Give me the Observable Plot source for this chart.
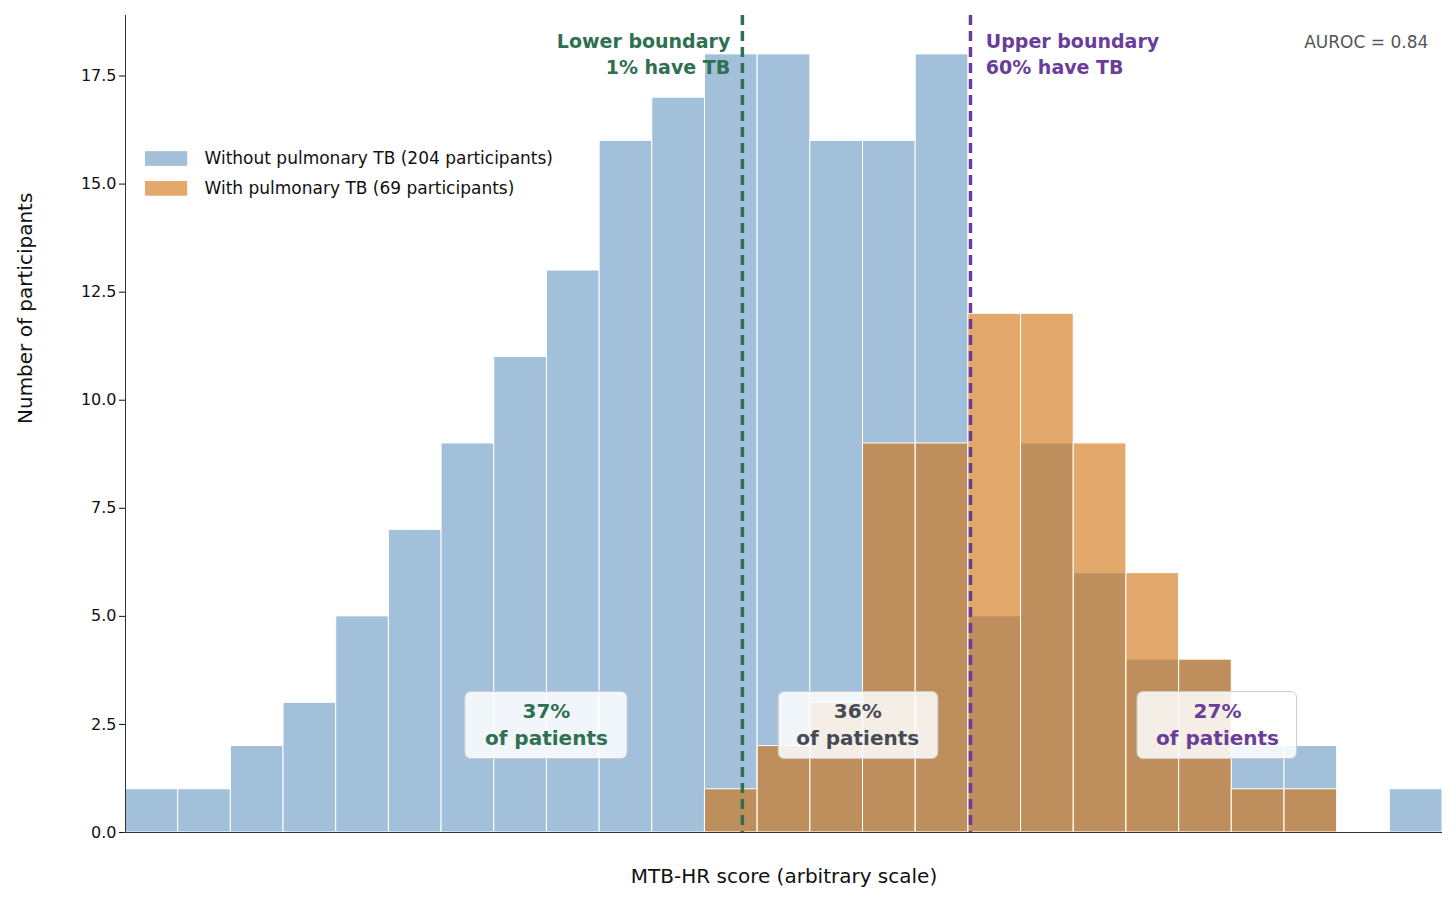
<!DOCTYPE html>
<html><head><meta charset="utf-8">
<script src="https://cdn.jsdelivr.net/npm/d3@7"></script>
<script src="https://cdn.jsdelivr.net/npm/@observablehq/plot@0.6"></script>
<style>body{margin:0;background:#fff;font-family:"DejaVu Sans",sans-serif}</style>
</head><body><div id="c"></div>
<script>
const withoutTB = [1,1,2,3,5,7,9,11,13,16,17,18,18,16,16,18,5,9,6,4,4,2,2,0,1];
const withTB    = [0,0,0,0,0,0,0,0,0,0,0,1,2,3,9,9,12,12,9,6,4,1,1,0,0];
const yTicks = [0,2.5,5,7.5,10,12.5,15,17.5];
const lowerBoundary = 11.71, upperBoundary = 16.04;
const boxes = [
  {x1:6.45,x2:9.53,cx:7.99,l1:"37%",l2:"of patients",c:"#2e7050"},
  {x1:12.4,x2:15.43,cx:13.9,l1:"36%",l2:"of patients",c:"#444b55"},
  {x1:19.21,x2:22.24,cx:20.73,l1:"27%",l2:"of patients",c:"#6a3d9a"}
];
const legend = [
  {label:"Without pulmonary TB (204 participants)", y:15.58, fill:"steelblue", op:0.5},
  {label:"With pulmonary TB (69 participants)", y:14.89, fill:"#d06e08", op:0.6}
];
const bins = d => d.map((v,i)=>({x1:i,x2:i+1,y:v}));
const green="#2e7050", purple="#6a3d9a";
const chart = Plot.plot({
  width:1456, height:897,
  marginLeft:125, marginRight:14, marginTop:15, marginBottom:65,
  style:{fontFamily:"DejaVu Sans", fontSize:"13px", color:"#111"},
  x:{domain:[0,25], axis:null},
  y:{domain:[0,18.9], ticks:yTicks, tickFormat:d=>d.toFixed(1), label:null},
  marks:[
    Plot.rectY(bins(withoutTB),{x1:"x1",x2:"x2",y:"y",fill:"steelblue",fillOpacity:0.5,stroke:"white",strokeWidth:1}),
    Plot.rectY(bins(withTB),{x1:"x1",x2:"x2",y:"y",fill:"#d06e08",fillOpacity:0.6,stroke:"white",strokeWidth:1}),
    Plot.ruleX([lowerBoundary],{stroke:green,strokeWidth:3.5,strokeDasharray:"10,6"}),
    Plot.ruleX([upperBoundary],{stroke:purple,strokeWidth:3.5,strokeDasharray:"10,6"}),
    Plot.ruleX([0],{stroke:"#333"}),
    Plot.ruleY([0],{stroke:"#333"}),
    Plot.text(["Lower boundary","1% have TB"],{x:11.48,y:(d,i)=>[18.28,17.68][i],text:d=>d,textAnchor:"end",fill:green,fontWeight:"bold",fontSize:19}),
    Plot.text(["Upper boundary","60% have TB"],{x:16.33,y:(d,i)=>[18.28,17.68][i],text:d=>d,textAnchor:"start",fill:purple,fontWeight:"bold",fontSize:19}),
    Plot.text(["AUROC = 0.84"],{x:24.73,y:18.28,textAnchor:"end",fill:"#555",fontSize:17}),
    Plot.rect(boxes,{x1:"x1",x2:"x2",y1:1.7,y2:3.25,fill:"white",fillOpacity:0.85,stroke:"#ccc",rx:6}),
    Plot.text(boxes,{x:"cx",y:2.8,text:"l1",fill:"c",fontWeight:"bold",fontSize:20}),
    Plot.text(boxes,{x:"cx",y:2.18,text:"l2",fill:"c",fontWeight:"bold",fontSize:20}),
    Plot.rect(legend,{x1:0.38,x2:1.18,y1:d=>d.y-0.17,y2:d=>d.y+0.17,fill:"fill",fillOpacity:"op"}),
    Plot.text(legend,{x:1.5,y:"y",text:"label",textAnchor:"start",fontSize:17,fill:"#111"}),
    Plot.text(["MTB-HR score (arbitrary scale)"],{x:12.5,y:0,dy:36,frameAnchor:"bottom",text:d=>d,fontSize:20,fill:"#111",lineAnchor:"top"}),
    Plot.text(["Number of participants"],{frameAnchor:"left",dx:-100,rotate:-90,text:d=>d,fontSize:20,fill:"#111"})
  ]
});
chart.querySelectorAll('[aria-label="y-axis tick label"] text, g[aria-label="y-axis tick label"]').forEach(e=>e.setAttribute("font-size","16"));
document.getElementById("c").appendChild(chart);
</script></body></html>
